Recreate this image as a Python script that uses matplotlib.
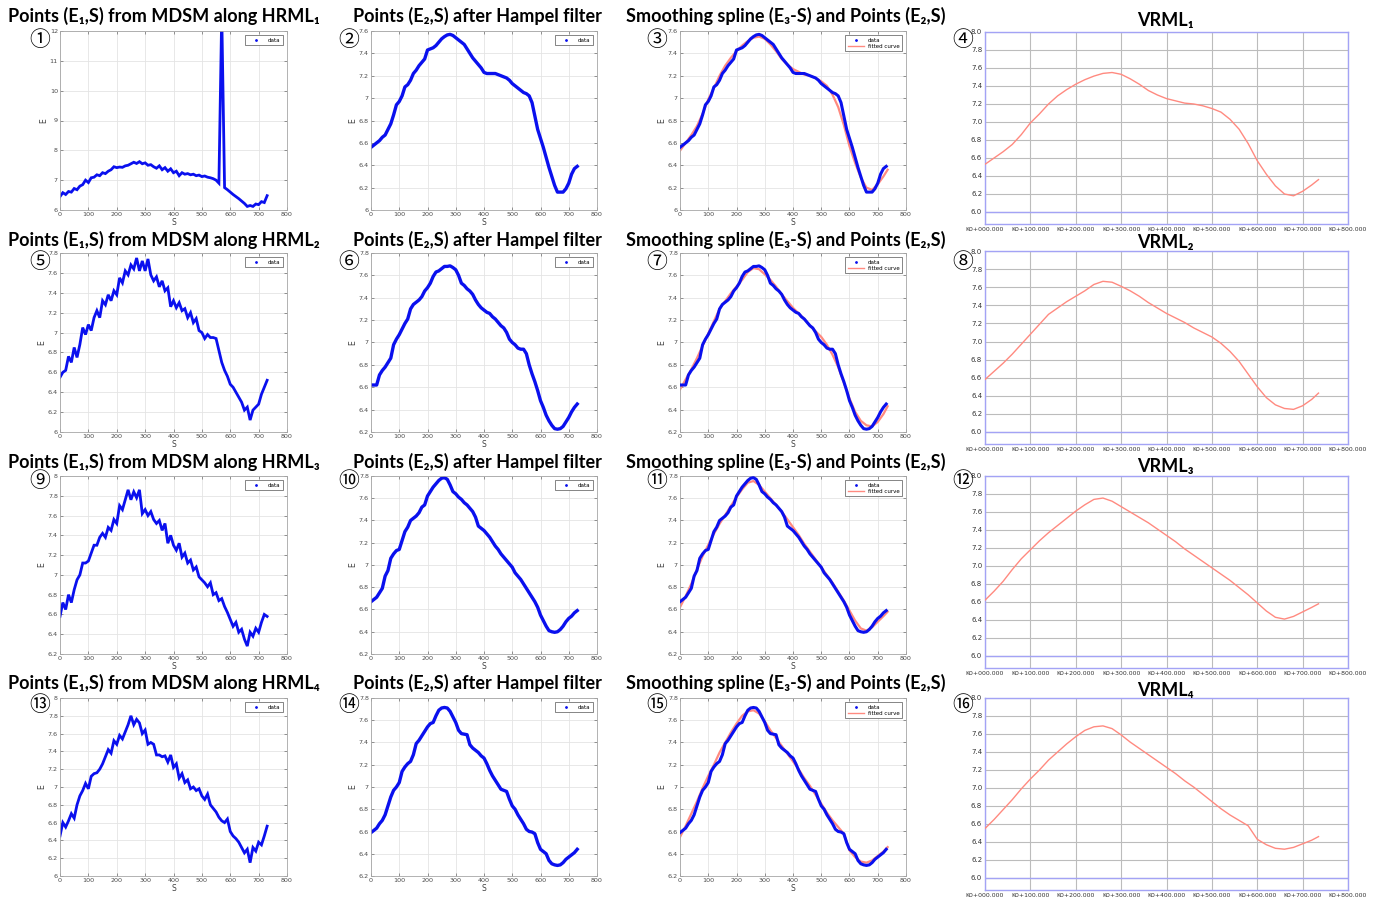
import matplotlib
matplotlib.use("Agg")
import matplotlib.pyplot as plt
from matplotlib.lines import Line2D
from matplotlib.ticker import FuncFormatter, FixedLocator

# ---------------- data ----------------
s_fine = [0, 10, 20, 30, 40, 50, 60, 70, 80, 90,
          100, 110, 120, 130, 140, 150, 160, 170, 180, 190,
          200, 210, 220, 230, 240, 250, 260, 270, 280, 290,
          300, 310, 320, 330, 340, 350, 360, 370, 380, 390,
          400, 410, 420, 430, 440, 450, 460, 470, 480, 490,
          500, 510, 520, 530, 540, 550, 560, 570, 580, 590,
          600, 610, 620, 630, 640, 650, 660, 670, 680, 690,
          700, 710, 720, 730]
s_coarse = [0, 20, 40, 60, 80, 100, 120, 140, 160, 180,
            200, 220, 240, 260, 280, 300, 320, 340, 360, 380,
            400, 420, 440, 460, 480, 500, 520, 540, 560, 580,
            600, 620, 640, 660, 680, 700, 720, 735]

# E1: raw points from MDSM along HRML1..4
e1_hrml1 = [6.45, 6.58, 6.52, 6.62, 6.60, 6.72, 6.68, 6.80, 6.85, 7.00,
            6.92, 7.08, 7.10, 7.18, 7.15, 7.25, 7.22, 7.30, 7.35, 7.45,
            7.42, 7.44, 7.43, 7.48, 7.50, 7.55, 7.60, 7.56, 7.62, 7.55,
            7.58, 7.50, 7.52, 7.45, 7.40, 7.48, 7.35, 7.42, 7.30, 7.38,
            7.25, 7.30, 7.15, 7.25, 7.20, 7.22, 7.18, 7.20, 7.15, 7.17,
            7.12, 7.14, 7.10, 7.08, 7.05, 7.00, 6.90, 12.6, 6.75, 6.68,
            6.60, 6.52, 6.45, 6.38, 6.30, 6.22, 6.12, 6.15, 6.12, 6.20,
            6.18, 6.28, 6.25, 6.48]
e1_hrml2 = [6.55, 6.60, 6.62, 6.76, 6.70, 6.85, 6.75, 6.88, 7.05, 6.98,
            7.08, 7.02, 7.15, 7.22, 7.15, 7.32, 7.28, 7.38, 7.32, 7.42,
            7.38, 7.55, 7.50, 7.62, 7.58, 7.68, 7.64, 7.75, 7.62, 7.72,
            7.62, 7.74, 7.58, 7.52, 7.56, 7.46, 7.52, 7.42, 7.45, 7.26,
            7.32, 7.25, 7.30, 7.22, 7.24, 7.15, 7.20, 7.10, 7.14, 7.02,
            7.00, 6.94, 6.98, 6.95, 6.95, 6.94, 6.82, 6.70, 6.62, 6.56,
            6.48, 6.45, 6.40, 6.35, 6.30, 6.22, 6.25, 6.12, 6.22, 6.25,
            6.28, 6.38, 6.45, 6.52]
e1_hrml3 = [6.58, 6.72, 6.65, 6.80, 6.72, 6.85, 6.95, 7.00, 7.12, 7.12,
            7.14, 7.22, 7.30, 7.30, 7.38, 7.42, 7.38, 7.48, 7.45, 7.56,
            7.52, 7.70, 7.66, 7.76, 7.86, 7.76, 7.84, 7.78, 7.86, 7.62,
            7.66, 7.60, 7.64, 7.56, 7.52, 7.55, 7.45, 7.52, 7.32, 7.40,
            7.30, 7.25, 7.32, 7.18, 7.22, 7.12, 7.15, 7.05, 7.08, 6.98,
            6.95, 6.92, 6.88, 6.92, 6.80, 6.82, 6.74, 6.76, 6.68, 6.62,
            6.55, 6.48, 6.52, 6.42, 6.45, 6.35, 6.28, 6.42, 6.38, 6.46,
            6.42, 6.52, 6.60, 6.58]
e1_hrml4 = [6.45, 6.60, 6.55, 6.62, 6.70, 6.65, 6.80, 6.90, 6.96, 7.04,
            6.98, 7.12, 7.15, 7.16, 7.20, 7.26, 7.34, 7.42, 7.38, 7.52,
            7.48, 7.58, 7.54, 7.62, 7.70, 7.80, 7.70, 7.76, 7.72, 7.60,
            7.64, 7.48, 7.50, 7.48, 7.36, 7.36, 7.34, 7.35, 7.28, 7.36,
            7.22, 7.26, 7.10, 7.15, 7.05, 7.08, 6.98, 7.00, 6.96, 6.98,
            6.90, 6.86, 6.92, 6.80, 6.76, 6.72, 6.66, 6.62, 6.60, 6.64,
            6.50, 6.45, 6.42, 6.38, 6.32, 6.26, 6.30, 6.15, 6.32, 6.28,
            6.38, 6.35, 6.45, 6.56]

# E2: points after Hampel filter
e2_hrml1 = [6.56, 6.58, 6.60, 6.62, 6.65, 6.67, 6.72, 6.77, 6.85, 6.94,
            6.97, 7.02, 7.10, 7.12, 7.16, 7.22, 7.25, 7.29, 7.32, 7.35,
            7.43, 7.44, 7.45, 7.47, 7.50, 7.53, 7.55, 7.565, 7.57, 7.56,
            7.54, 7.52, 7.50, 7.48, 7.44, 7.40, 7.36, 7.33, 7.30, 7.27,
            7.23, 7.22, 7.22, 7.22, 7.22, 7.21, 7.20, 7.19, 7.18, 7.16,
            7.13, 7.11, 7.09, 7.07, 7.05, 7.04, 7.02, 6.96, 6.84, 6.72,
            6.64, 6.56, 6.47, 6.38, 6.30, 6.22, 6.16, 6.16, 6.16, 6.19,
            6.24, 6.32, 6.37, 6.39]
e2_hrml2 = [6.62, 6.62, 6.62, 6.71, 6.75, 6.78, 6.82, 6.86, 6.98, 7.03,
            7.07, 7.12, 7.17, 7.21, 7.30, 7.34, 7.36, 7.38, 7.41, 7.46,
            7.49, 7.53, 7.59, 7.63, 7.64, 7.66, 7.68, 7.68, 7.685, 7.67,
            7.65, 7.60, 7.53, 7.51, 7.48, 7.46, 7.43, 7.38, 7.34, 7.31,
            7.29, 7.27, 7.26, 7.23, 7.21, 7.18, 7.15, 7.13, 7.09, 7.03,
            7.00, 6.98, 6.95, 6.94, 6.94, 6.90, 6.80, 6.72, 6.65, 6.57,
            6.48, 6.42, 6.35, 6.30, 6.26, 6.23, 6.225, 6.23, 6.25, 6.29,
            6.33, 6.38, 6.42, 6.45]
e2_hrml3 = [6.67, 6.69, 6.71, 6.75, 6.79, 6.90, 6.95, 7.06, 7.10, 7.13,
            7.14, 7.22, 7.30, 7.34, 7.40, 7.42, 7.44, 7.47, 7.52, 7.54,
            7.62, 7.66, 7.70, 7.73, 7.76, 7.78, 7.785, 7.77, 7.72, 7.66,
            7.64, 7.61, 7.59, 7.56, 7.54, 7.51, 7.48, 7.43, 7.35, 7.33,
            7.31, 7.28, 7.25, 7.21, 7.17, 7.14, 7.10, 7.07, 7.04, 7.01,
            6.98, 6.93, 6.90, 6.87, 6.83, 6.79, 6.75, 6.71, 6.67, 6.62,
            6.55, 6.50, 6.45, 6.41, 6.40, 6.395, 6.40, 6.42, 6.45, 6.49,
            6.52, 6.54, 6.57, 6.59]
e2_hrml4 = [6.59, 6.61, 6.63, 6.67, 6.70, 6.75, 6.83, 6.91, 6.97, 7.00,
            7.04, 7.14, 7.18, 7.21, 7.23, 7.29, 7.39, 7.42, 7.46, 7.50,
            7.54, 7.57, 7.58, 7.64, 7.69, 7.71, 7.715, 7.71, 7.68, 7.63,
            7.58, 7.51, 7.48, 7.475, 7.47, 7.38, 7.35, 7.33, 7.31, 7.28,
            7.26, 7.21, 7.15, 7.10, 7.06, 7.02, 6.98, 6.97, 6.96, 6.89,
            6.83, 6.80, 6.75, 6.71, 6.67, 6.62, 6.60, 6.595, 6.58, 6.50,
            6.44, 6.42, 6.40, 6.34, 6.31, 6.30, 6.295, 6.30, 6.32, 6.35,
            6.37, 6.39, 6.41, 6.44]

# E3: smoothing spline (also shown as VRML profile)
e3_hrml1 = [6.53, 6.60, 6.67, 6.75, 6.86, 6.99, 7.09, 7.20, 7.29, 7.36,
            7.42, 7.47, 7.51, 7.54, 7.55, 7.53, 7.48, 7.42, 7.35, 7.30,
            7.26, 7.235, 7.21, 7.20, 7.18, 7.15, 7.11, 7.03, 6.92, 6.76,
            6.57, 6.42, 6.29, 6.20, 6.18, 6.23, 6.30, 6.36]
e3_hrml2 = [6.58, 6.67, 6.76, 6.86, 6.97, 7.08, 7.19, 7.30, 7.37, 7.44,
            7.50, 7.56, 7.63, 7.665, 7.655, 7.61, 7.56, 7.50, 7.43, 7.37,
            7.31, 7.26, 7.21, 7.15, 7.10, 7.05, 6.98, 6.89, 6.78, 6.64,
            6.50, 6.38, 6.30, 6.26, 6.25, 6.29, 6.36, 6.43]
e3_hrml3 = [6.62, 6.72, 6.83, 6.96, 7.08, 7.18, 7.28, 7.37, 7.45, 7.53,
            7.61, 7.68, 7.74, 7.755, 7.72, 7.66, 7.60, 7.54, 7.48, 7.41,
            7.34, 7.27, 7.19, 7.12, 7.05, 6.98, 6.91, 6.84, 6.76, 6.68,
            6.59, 6.50, 6.43, 6.41, 6.44, 6.49, 6.54, 6.58]
e3_hrml4 = [6.55, 6.65, 6.76, 6.87, 6.99, 7.10, 7.20, 7.31, 7.40, 7.49,
            7.57, 7.64, 7.68, 7.69, 7.66, 7.59, 7.51, 7.44, 7.37, 7.30,
            7.23, 7.16, 7.08, 7.01, 6.93, 6.85, 6.77, 6.70, 6.64, 6.58,
            6.43, 6.37, 6.33, 6.32, 6.34, 6.38, 6.42, 6.46]

e1_all = [e1_hrml1, e1_hrml2, e1_hrml3, e1_hrml4]
e2_all = [e2_hrml1, e2_hrml2, e2_hrml3, e2_hrml4]
e3_all = [e3_hrml1, e3_hrml2, e3_hrml3, e3_hrml4]

subs = ["\u2081", "\u2082", "\u2083", "\u2084"]
circled = ["\u2460", "\u2461", "\u2462", "\u2463", "\u2464", "\u2465", "\u2466", "\u2467",
           "\u2468", "\u2469", "\u246a", "\u246b", "\u246c", "\u246d", "\u246e", "\u246f"]

# y-limits per MATLAB panel [raw, hampel, spline]
ylims = [[(6, 12, 1.0), (6, 7.6, 0.2), (6, 7.6, 0.2)],
         [(6, 7.8, 0.2), (6.2, 7.8, 0.2), (6.2, 7.8, 0.2)],
         [(6.2, 8.0, 0.2), (6.2, 7.8, 0.2), (6.2, 7.8, 0.2)],
         [(6.0, 8.0, 0.2), (6.2, 7.8, 0.2), (6.2, 7.8, 0.2)]]

# ---------------- layout ----------------
W, H = 1378, 899
fig = plt.figure(figsize=(W / 100, H / 100), dpi=100)
fig.patch.set_facecolor("white")

def rect(l, t, r, b):
    return [l / W, 1 - b / H, (r - l) / W, (b - t) / H]

row_tb = [(31, 210), (253, 432), (476, 654), (698, 876)]
col_lr = [(60, 287), (371, 597), (680, 906)]
vrml_tb = [(32, 224), (251, 444), (476, 668), (698, 890)]
vrml_lr = (985, 1348)
title_y = [16, 240, 462, 683]
vtitle_y = [20, 243, 467, 690]
col_tx = [164, 477, 786, 1165]
circ_x = [40, 349, 657, 963]
circ_y = [40, 262, 481, 705]

BLUE = "#0a10ee"
RED = "#ff8a80"
TFAM = ["Lato", "DejaVu Sans"]
CFAM = ["Noto Sans CJK JP", "DejaVu Sans"]
TSIZE = 13

gfmt = FuncFormatter(lambda v, p: ("%.1f" % v).rstrip("0").rstrip("."))


def matlab_axes(r, c, lo, hi, step):
    l, rr = col_lr[c]
    t, b = row_tb[r]
    ax = fig.add_axes(rect(l, t, rr, b))
    ax.set_xlim(0, 800)
    ax.set_ylim(lo, hi)
    ax.xaxis.set_major_locator(FixedLocator([0, 100, 200, 300, 400, 500, 600, 700, 800]))
    n = int(round((hi - lo) / step))
    ax.yaxis.set_major_locator(FixedLocator([lo + i * step for i in range(n + 1)]))
    ax.yaxis.set_major_formatter(gfmt)
    ax.grid(True, color="#e4e4e4", lw=0.6)
    ax.set_axisbelow(True)
    for sp in ax.spines.values():
        sp.set_color("#a6a6a6")
        sp.set_linewidth(0.6)
    ax.tick_params(labelsize=4.6, colors="#4a4a4a", direction="in", length=2,
                   width=0.4, top=True, right=True, pad=1.5)
    ax.set_xlabel("S", fontsize=5.5, color="#404040", labelpad=0.5)
    ax.set_ylabel("E", fontsize=5.5, color="#404040", labelpad=1)
    return ax


def add_legend(ax, fitted=False):
    handles = [Line2D([], [], color=BLUE, marker=".", ms=2, ls="none", label="data")]
    if fitted:
        handles.append(Line2D([], [], color=RED, lw=1.0, label="fitted curve"))
    leg = ax.legend(handles=handles, loc="upper right", fontsize=4, frameon=True,
                    fancybox=False, edgecolor="#555555", framealpha=1, borderpad=0.4,
                    handlelength=3, handletextpad=0.6, borderaxespad=0.8,
                    labelspacing=0.2)
    leg.get_frame().set_linewidth(0.5)


for r in range(4):
    # column 1: raw points
    lo, hi, st = ylims[r][0]
    ax = matlab_axes(r, 0, lo, hi, st)
    ax.plot(s_fine, e1_all[r], color=BLUE, lw=2.0, solid_joinstyle="miter")
    add_legend(ax)

    # column 2: Hampel filtered
    lo, hi, st = ylims[r][1]
    ax = matlab_axes(r, 1, lo, hi, st)
    ax.plot(s_fine, e2_all[r], color=BLUE, lw=2.4)
    add_legend(ax)

    # column 3: spline + points
    lo, hi, st = ylims[r][2]
    ax = matlab_axes(r, 2, lo, hi, st)
    ax.plot(s_coarse, e3_all[r], color=RED, lw=1.6, zorder=2)
    ax.plot(s_fine, e2_all[r], color=BLUE, lw=2.2, zorder=3)
    add_legend(ax, fitted=True)

    # column 4: VRML profile
    t, b = vrml_tb[r]
    ax = fig.add_axes(rect(vrml_lr[0], t, vrml_lr[1], b))
    ylo = 6.0 - 12.0 / (b - t - 12) * 2.0
    ax.set_xlim(0, 800)
    ax.set_ylim(ylo, 8.0)
    ax.xaxis.set_major_locator(FixedLocator([0, 100, 200, 300, 400, 500, 600, 700, 800]))
    ax.xaxis.set_major_formatter(FuncFormatter(lambda v, p: "K0+%03d.000" % int(round(v))))
    ax.yaxis.set_major_locator(FixedLocator([6.0, 6.2, 6.4, 6.6, 6.8, 7.0, 7.2, 7.4, 7.6, 7.8, 8.0]))
    ax.yaxis.set_major_formatter(FuncFormatter(lambda v, p: "%.1f" % v))
    ax.grid(True, color="#bcbcbc", lw=0.8)
    ax.set_axisbelow(True)
    ax.axhline(6.0, color="#a3a3f5", lw=1.0, zorder=1.5)
    for sp in ax.spines.values():
        sp.set_color("#a3a3f5")
        sp.set_linewidth(1.0)
    ax.tick_params(length=0, labelsize=4.4, colors="#333333", pad=2)
    ax.tick_params(axis="y", labelsize=5)
    ax.plot(s_coarse, e3_all[r], color=RED, lw=1.0, zorder=3)

    # titles
    fig.text(col_tx[0] / W, 1 - title_y[r] / H,
             "Points (E\u2081,S) from MDSM along HRML" + subs[r],
             ha="center", va="center", fontsize=TSIZE, fontweight="bold", family=TFAM)
    fig.text(col_tx[1] / W, 1 - title_y[r] / H,
             "Points (E\u2082,S) after Hampel filter",
             ha="center", va="center", fontsize=TSIZE, fontweight="bold", family=TFAM)
    fig.text(col_tx[2] / W, 1 - title_y[r] / H,
             "Smoothing spline (E\u2083-S) and Points (E\u2082,S)",
             ha="center", va="center", fontsize=TSIZE, fontweight="bold", family=TFAM)
    fig.text(col_tx[3] / W, 1 - vtitle_y[r] / H, "VRML" + subs[r],
             ha="center", va="center", fontsize=TSIZE, fontweight="bold", family=TFAM)

    for c in range(4):
        fig.text(circ_x[c] / W, 1 - circ_y[r] / H, circled[r * 4 + c],
                 ha="center", va="center", fontsize=15, family=CFAM)

fig.savefig("out.png", dpi=100)
